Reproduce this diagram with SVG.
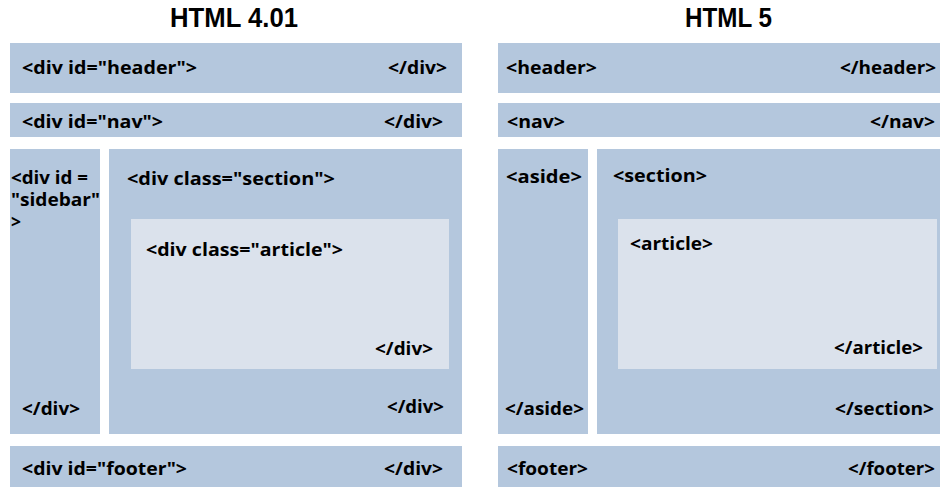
<svg xmlns="http://www.w3.org/2000/svg" width="940" height="487" viewBox="0 0 940 487">
<style>
.box{fill:#b4c7dd}
.inner{fill:#dbe2ec}
.t{font-family:"Open Sans","Liberation Sans",Arial,sans-serif;font-weight:bold;font-size:18px;fill:#000}
.title{font-family:"Liberation Sans",Arial,sans-serif;font-weight:bold;font-size:27px;fill:#000}
</style>
<rect x="0" y="0" width="940" height="487" fill="#ffffff"/>
<text class="title" x="170" y="27" textLength="128" lengthAdjust="spacingAndGlyphs">HTML 4.01</text>
<text class="title" x="685" y="27" textLength="87" lengthAdjust="spacingAndGlyphs">HTML 5</text>

<g id="html4-header">
<rect class="box" x="10" y="43" width="452" height="50"/>
<text class="t" x="22" y="74" textLength="175" lengthAdjust="spacingAndGlyphs">&lt;div id="header"&gt;</text>
<text class="t" x="388" y="74" textLength="59" lengthAdjust="spacingAndGlyphs">&lt;/div&gt;</text>
</g>
<g id="html4-nav">
<rect class="box" x="10" y="103" width="452" height="34"/>
<text class="t" x="22" y="128" textLength="141" lengthAdjust="spacingAndGlyphs">&lt;div id="nav"&gt;</text>
<text class="t" x="384" y="128" textLength="59" lengthAdjust="spacingAndGlyphs">&lt;/div&gt;</text>
</g>
<g id="html4-sidebar">
<rect class="box" x="10" y="149" width="90" height="285"/>
<text class="t" x="11" y="184" textLength="77" lengthAdjust="spacingAndGlyphs">&lt;div id =</text>
<text class="t" x="11" y="206" textLength="89" lengthAdjust="spacingAndGlyphs">"sidebar"</text>
<text class="t" x="11" y="228" textLength="10" lengthAdjust="spacingAndGlyphs">&gt;</text>
<text class="t" x="22" y="415" textLength="58" lengthAdjust="spacingAndGlyphs">&lt;/div&gt;</text>
</g>
<g id="html4-section">
<rect class="box" x="109" y="149" width="353" height="285"/>
<text class="t" x="127" y="185" textLength="208" lengthAdjust="spacingAndGlyphs">&lt;div class="section"&gt;</text>
<text class="t" x="387" y="413" textLength="57" lengthAdjust="spacingAndGlyphs">&lt;/div&gt;</text>
</g>
<g id="html4-article">
<rect class="inner" x="131" y="219" width="318" height="150"/>
<text class="t" x="146" y="256" textLength="197" lengthAdjust="spacingAndGlyphs">&lt;div class="article"&gt;</text>
<text class="t" x="375" y="355" textLength="58" lengthAdjust="spacingAndGlyphs">&lt;/div&gt;</text>
</g>
<g id="html4-footer">
<rect class="box" x="10" y="446" width="452" height="41"/>
<text class="t" x="22" y="475" textLength="165" lengthAdjust="spacingAndGlyphs">&lt;div id="footer"&gt;</text>
<text class="t" x="384" y="475" textLength="59" lengthAdjust="spacingAndGlyphs">&lt;/div&gt;</text>
</g>

<g id="html5-header">
<rect class="box" x="498" y="43" width="442" height="50"/>
<text class="t" x="506" y="74" textLength="91" lengthAdjust="spacingAndGlyphs">&lt;header&gt;</text>
<text class="t" x="840" y="74" textLength="96" lengthAdjust="spacingAndGlyphs">&lt;/header&gt;</text>
</g>
<g id="html5-nav">
<rect class="box" x="498" y="103" width="442" height="34"/>
<text class="t" x="507" y="128" textLength="58" lengthAdjust="spacingAndGlyphs">&lt;nav&gt;</text>
<text class="t" x="870" y="128" textLength="65" lengthAdjust="spacingAndGlyphs">&lt;/nav&gt;</text>
</g>
<g id="html5-aside">
<rect class="box" x="498" y="149" width="90" height="285"/>
<text class="t" x="506" y="183" textLength="76" lengthAdjust="spacingAndGlyphs">&lt;aside&gt;</text>
<text class="t" x="505" y="415" textLength="79" lengthAdjust="spacingAndGlyphs">&lt;/aside&gt;</text>
</g>
<g id="html5-section">
<rect class="box" x="597" y="149" width="343" height="285"/>
<text class="t" x="613" y="182" textLength="94" lengthAdjust="spacingAndGlyphs">&lt;section&gt;</text>
<text class="t" x="835" y="415" textLength="99" lengthAdjust="spacingAndGlyphs">&lt;/section&gt;</text>
</g>
<g id="html5-article">
<rect class="inner" x="618" y="219" width="319" height="150"/>
<text class="t" x="630" y="250" textLength="83" lengthAdjust="spacingAndGlyphs">&lt;article&gt;</text>
<text class="t" x="834" y="354" textLength="89" lengthAdjust="spacingAndGlyphs">&lt;/article&gt;</text>
</g>
<g id="html5-footer">
<rect class="box" x="498" y="446" width="442" height="41"/>
<text class="t" x="507" y="475" textLength="81" lengthAdjust="spacingAndGlyphs">&lt;footer&gt;</text>
<text class="t" x="848" y="475" textLength="87" lengthAdjust="spacingAndGlyphs">&lt;/footer&gt;</text>
</g>
<g id="connectors"/>
</svg>
